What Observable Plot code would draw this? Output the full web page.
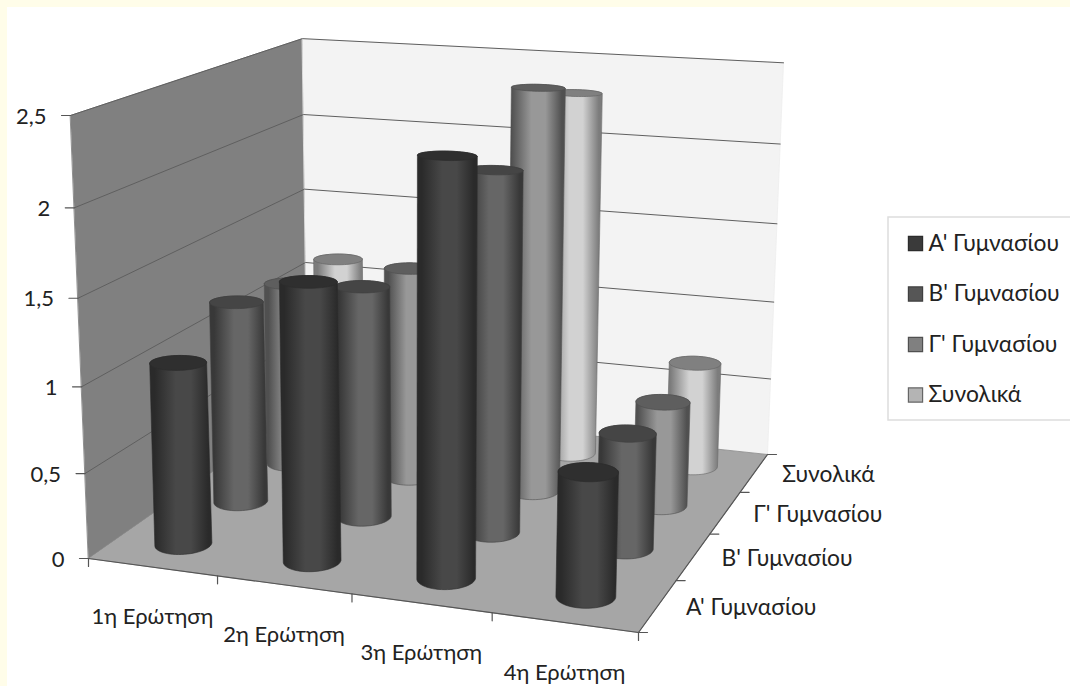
<!DOCTYPE html>
<html>
<head>
<meta charset="utf-8">
<script src="https://cdn.jsdelivr.net/npm/d3@7"></script>
<script src="https://cdn.jsdelivr.net/npm/@observablehq/plot@0.6"></script>
<style>
  html, body { margin: 0; padding: 0; background: #fffde9; }
  svg { display: block; }
</style>
</head>
<body>
<script>
// Question categories and class groups
const questions = ["1η Ερώτηση", "2η Ερώτηση", "3η Ερώτηση", "4η Ερώτηση"];
const groups = ["Α' Γυμνασίου", "Β' Γυμνασίου", "Γ' Γυμνασίου", "Συνολικά"];

// Mean score per question, one list per group
const classA = [1.07, 1.6, 2.34, 0.7];
const classB = [1.23, 1.39, 2.12, 0.68];
const classC = [1.16, 1.32, 2.46, 0.64];
const overall = [1.14, 1.0, 2.31, 0.67];
const seriesValues = [classA, classB, classC, overall];

const valueTicks = [0, 0.5, 1, 1.5, 2, 2.5];
const valueLabels = ["0", "0,5", "1", "1,5", "2", "2,5"];

const W = 1070, H = 686;
const zMax = 2.5;
const FONT = "Lato, 'Noto Sans', 'Open Sans', sans-serif";

// Camera: floor quad, vertical vanishing point and front-left wall height
const floorQuad = [[88, 558], [638, 632], [767, 454], [307, 405]];
const vanish = [424, 8837];
const frontTopY = 115;

const camera = (() => {
  const [[x0, y0], [x1, y1], [x2, y2], [x3, y3]] = floorQuad;
  const dx1 = x1 - x2, dx2 = x3 - x2, dx3 = x0 - x1 + x2 - x3;
  const dy1 = y1 - y2, dy2 = y3 - y2, dy3 = y0 - y1 + y2 - y3;
  const den = dx1 * dy2 - dx2 * dy1;
  const g = (dx3 * dy2 - dx2 * dy3) / den;
  const h = (dx1 * dy3 - dx3 * dy1) / den;
  return {
    a: x1 - x0 + g * x1, b: x3 - x0 + h * x3, c: x0,
    d: y1 - y0 + g * y1, e: y3 - y0 + h * y3, f: y0,
    g, h,
    k: (frontTopY - y0) / (vanish[1] - frontTopY) / zMax
  };
})();

// World (question axis 0..4, group axis 0..4, value) to page position
function project(u, v, z) {
  const s = u / 4, t = v / 4, c = camera, q = c.k * z;
  const X = c.a * s + c.b * t + c.c + q * vanish[0];
  const Y = c.d * s + c.e * t + c.f + q * vanish[1];
  const w = c.g * s + c.h * t + 1 + q;
  return {x: X / w, y: Y / w};
}

const poly = (pts, options) => Plot.line(pts.map(p => ({x: p.x, y: p.y})),
  {x: "x", y: "y", curve: "linear-closed", strokeLinejoin: "round", ...options});

// Cylinder built from two projected rings; caps flatten as they rise towards eye level
const RU = 0.2, RV = 0.22, FLATTEN = 0.11;
function ring(u, v, z) {
  const rv = RV * (1 - FLATTEN * z);
  return d3.range(60).map(i => {
    const t = i / 60 * 2 * Math.PI;
    return project(u + RU * Math.cos(t), v + rv * Math.sin(t), z);
  });
}

const shades = [
  {id: "cylA", edge: "#2a2a2a", mid: "#484848", cap: "#2f2f2f", line: "#2c2c2c", swatch: "#3a3a3a"},
  {id: "cylB", edge: "#383838", mid: "#666666", cap: "#454545", line: "#404040", swatch: "#565656"},
  {id: "cylC", edge: "#505050", mid: "#989898", cap: "#5e5e5e", line: "#505050", swatch: "#808080"},
  {id: "cylD", edge: "#7c7c7c", mid: "#d2d2d2", cap: "#808080", line: "#666666", swatch: "#b4b4b4"}
];

function gradients() {
  const defs = d3.create("svg:defs");
  for (const s of shades) {
    const g = defs.append("linearGradient").attr("id", s.id);
    [[0, s.edge], [0.08, s.edge], [0.42, s.mid], [0.66, s.mid], [0.94, s.edge], [1, s.edge]]
      .forEach(([o, c]) => g.append("stop").attr("offset", o).attr("stop-color", c));
  }
  return defs.node();
}

function cylinder(value, qi, gi) {
  const u = qi + 0.5, v = gi + 0.5, s = shades[gi];
  const top = ring(u, v, value), bottom = ring(u, v, 0);
  const hull = d3.polygonHull([...top, ...bottom].map(p => [p.x, p.y])).map(([x, y]) => ({x, y}));
  return [
    poly(hull, {fill: `url(#${s.id})`, stroke: s.line, strokeWidth: 0.6}),
    poly(top, {fill: s.cap, stroke: s.line, strokeWidth: 0.7})
  ];
}

// Back-most group first so nearer cylinders overlap it
const cylinders = [];
for (let gi = groups.length - 1; gi >= 0; gi--) {
  seriesValues[gi].forEach((value, qi) => cylinders.push(cylinder(value, qi, gi)));
}

const segment = (a, b) => Plot.line([a, b], {x: "x", y: "y", stroke: "#555555", strokeWidth: 1.2});
const shift = (p, dx, dy) => ({x: p.x + dx, y: p.y + dy});

// Walls and floor
const walls = [
  poly([project(0,0,0), project(0,4,0), project(0,4,zMax), project(0,0,zMax)], {fill: "#808080", stroke: "#777777", strokeWidth: 0.8}),
  poly([project(0,4,0), project(4,4,0), project(4,4,zMax), project(0,4,zMax)], {fill: "#f3f3f3", stroke: "#eeeeee", strokeWidth: 0.8}),
  poly([project(0,0,0), project(4,0,0), project(4,4,0), project(0,4,0)], {fill: "#a6a6a6", stroke: "#8a8a8a", strokeWidth: 0.8})
];

const gridlines = valueTicks.filter(z => z > 0).map(z =>
  Plot.line([project(0,0,z), project(0,4,z), project(4,4,z)],
    {x: "x", y: "y", stroke: "#5f5f5f", strokeWidth: 1}));

// Axis ticks and labels in the projected frame
const valueAxis = valueTicks.map((z, i) => {
  const p = project(0, 0, z);
  return [
    segment(shift(p, -9, 0), p),
    Plot.text([shift(p, -24, 1)], {x: "x", y: "y", text: () => valueLabels[i], textAnchor: "end", fontSize: 22, fill: "#222222"})
  ];
});

const questionTicks = d3.range(5).map(u => {
  const p = project(u, 0, 0);
  return segment(p, shift(p, 0, 8));
});
const questionLabels = questions.map((q, i) => {
  const p = project(i + 0.5, 0, 0);
  return Plot.text([shift(p, 0, 50)], {x: "x", y: "y", text: () => q, fontSize: 22, fill: "#222222"});
});

const groupTicks = d3.range(5).map(v => {
  const p = project(4, v, 0);
  return segment(p, shift(p, 9, 0));
});
const groupLabels = groups.map((name, i) => {
  const p = project(4, i + 0.5, 0);
  return Plot.text([shift(p, 28, 2)], {x: "x", y: "y", text: () => name, textAnchor: "start", fontSize: 22.8, fill: "#222222"});
});

// Legend box on the right
const legendRows = groups.map((name, i) => ({name, i, x: 915, y: 243 + i * 50.5}));
const legend = [
  Plot.rect([0], {x1: () => 888, x2: () => W + 4, y1: () => 217, y2: () => 420, fill: "white", stroke: "#dddddd", strokeWidth: 1.5}),
  Plot.dot(legendRows, {x: "x", y: "y", symbol: "square", r: 8,
    fill: d => shades[d.i].swatch, stroke: d => shades[d.i].line, strokeWidth: 1.2}),
  Plot.text(legendRows, {x: d => d.x + 13, y: "y", text: "name", textAnchor: "start", fontSize: 22.8, fill: "#222222"})
];

const chart = Plot.plot({
  width: W, height: H, margin: 0,
  style: {background: "transparent", fontFamily: FONT},
  x: {axis: null, domain: [0, W], range: [0, W]},
  y: {axis: null, domain: [0, H], range: [0, H]},
  marks: [
    gradients,
    Plot.rect([0], {x1: () => 7, x2: () => W, y1: () => 7, y2: () => H, fill: "white"}),
    walls,
    gridlines,
    segment(project(0,0,0), project(4,0,0)),
    segment(project(4,0,0), project(4,4,0)),
    valueAxis,
    questionTicks,
    groupTicks,
    cylinders,
    questionLabels,
    groupLabels,
    legend
  ]
});
document.body.appendChild(chart);
</script>
</body>
</html>
